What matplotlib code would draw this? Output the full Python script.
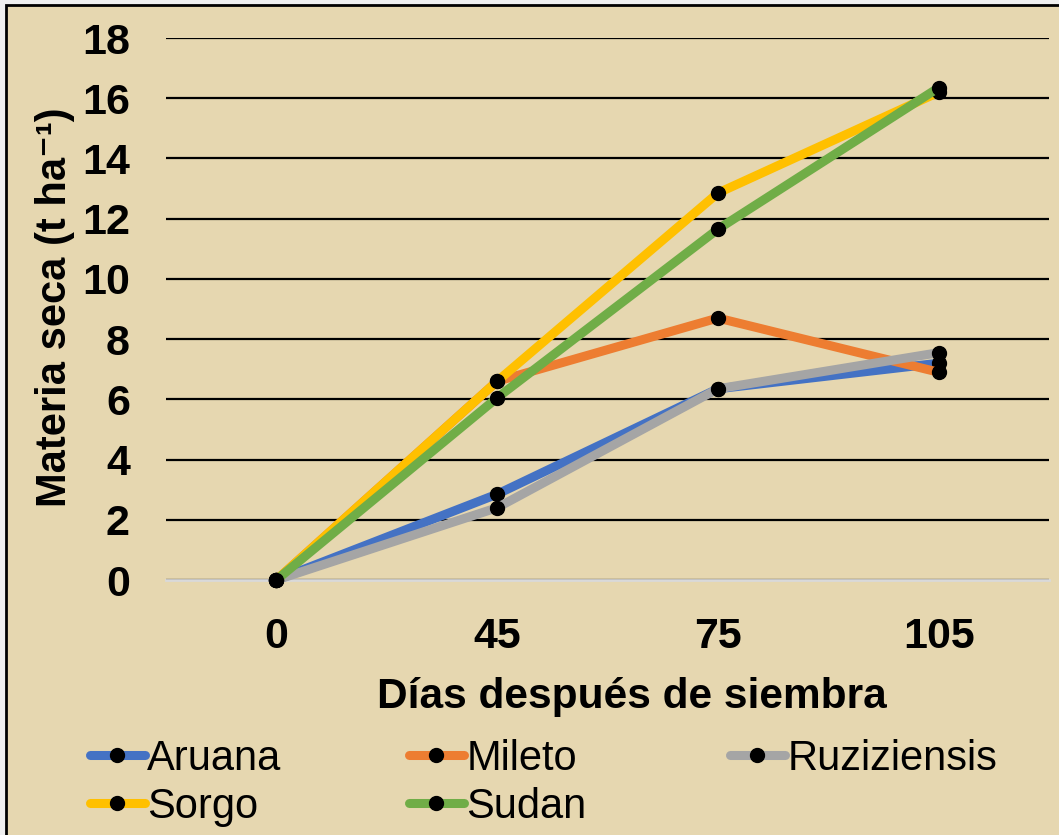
import matplotlib
matplotlib.use("Agg")
import matplotlib.pyplot as plt
from matplotlib.patches import Rectangle

categories = ["0", "45", "75", "105"]
aruana = [0, 2.85, 6.35, 7.2]
mileto = [0, 6.6, 8.7, 6.9]
ruziziensis = [0, 2.4, 6.35, 7.55]
sorgo = [0, 6.6, 12.85, 16.2]
sudan = [0, 6.05, 11.65, 16.35]

names = ["Aruana", "Mileto", "Ruziziensis", "Sorgo", "Sudan"]
series = [aruana, mileto, ruziziensis, sorgo, sudan]
colors = ["#4472C4", "#ED7D31", "#A5A5A5", "#FFC000", "#70AD47"]

W, H = 1059, 835
bg = "#E6D7B0"
FAM = ["Liberation Sans", "DejaVu Sans"]
fig = plt.figure(figsize=(W / 100, H / 100), dpi=100)
fig.patch.set_facecolor("#EFEFEF")
fig.patches.append(Rectangle((6 / W, -0.05), 1.1, (H - 5) / H + 0.05, transform=fig.transFigure,
                             facecolor=bg, edgecolor="black", linewidth=2, zorder=-10))

ax = fig.add_axes([166 / W, (H - 580) / H, (1049 - 166) / W, (580 - 38) / H])
ax.patch.set_alpha(0)

x = list(range(len(categories)))
handles = []
for name, vals, c in zip(names, series, colors):
    ln, = ax.plot(x, vals, color=c, linewidth=6.5, marker="o", markersize=10,
                  markerfacecolor="black", markeredgecolor="black", clip_on=False,
                  solid_capstyle="round", label=name, zorder=3)
    handles.append(ln)

ax.set_xlim(-0.5, len(categories) - 0.5)
ax.set_ylim(0, 18)
ax.set_yticks(range(0, 19, 2))
ax.set_xticks(x)
ax.set_xticklabels(categories)
ax.grid(axis="y", color="black", linewidth=1.6, zorder=0)
ax.set_axisbelow(True)
for s in ["top", "right", "left"]:
    ax.spines[s].set_visible(False)
ax.spines["bottom"].set_color("#D9D9D9")
ax.spines["bottom"].set_linewidth(2)
ax.tick_params(axis="both", length=0, labelsize=31)
ax.tick_params(axis="x", pad=27)
ax.tick_params(axis="y", pad=26)
for lab in ax.get_xticklabels() + ax.get_yticklabels():
    lab.set_fontweight("bold")
    lab.set_fontfamily(FAM)

ax.set_xlabel("Días después de siembra", fontsize=30.5, fontweight="bold",
              family=FAM)
ax.xaxis.set_label_coords((632 - 166) / 883, -(697 - 580) / 542)
ax.xaxis.label.set_va("center")
ax.set_ylabel("Materia seca (t ha\u207b\u00b9)", fontsize=30, fontweight="bold",
              family=FAM)
ax.yaxis.set_label_coords(-(166 - 55) / 883, (580 - 307) / 542)
ax.yaxis.label.set_va("center")

# legend laid out in three fixed-width columns (row-major order)
cols = [[0, 3], [1, 4], [2]]
col_x = [73, 392, 713]
for idxs, cx in zip(cols, col_x):
    fig.legend([handles[i] for i in idxs], [names[i] for i in idxs],
               loc="upper left", bbox_to_anchor=(cx / W, (H - 722) / H), ncol=1,
               frameon=False, prop={"family": FAM, "size": 30},
               handlelength=1.33, handletextpad=0.05,
               labelspacing=0.2, borderaxespad=0)

fig.savefig("out.png", dpi=100, facecolor=fig.get_facecolor())
